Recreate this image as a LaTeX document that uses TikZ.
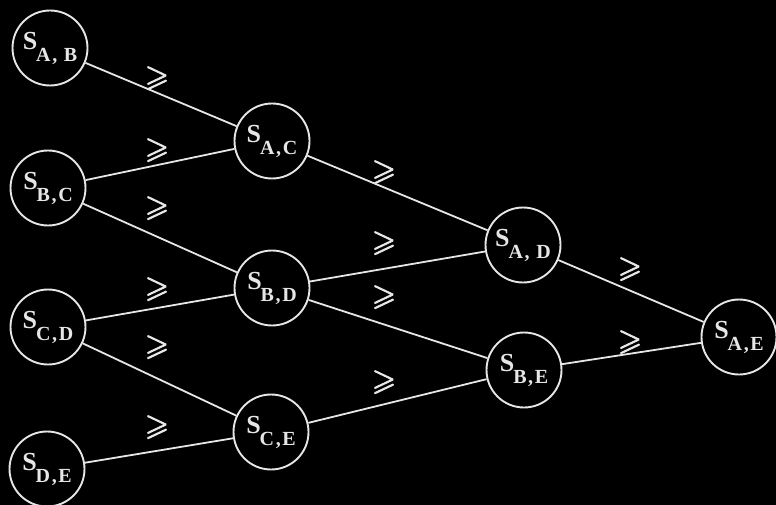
\documentclass[tikz,border=0pt]{standalone}
\usepackage{fontspec}
\setmainfont{Liberation Serif}
\newfontfamily\relfont{Latin Modern Math}[FakeBold=3]
\newfontfamily\subfont{Liberation Serif}[LetterSpace=8]
\definecolor{fg}{HTML}{E6E6E6}
\begin{document}
\begin{tikzpicture}[x=1pt,y=-1pt,
  snode/.style={circle,draw=fg,line width=1.9pt,fill=black,minimum size=75pt,inner sep=0pt,text=fg},
  link/.style={draw=fg,line width=1.8pt},
  rel/.style={text=fg,font=\relfont\fontsize{30}{30}\selectfont,inner sep=0pt}]
\fill[black] (0,0) rectangle (776,505);
\useasboundingbox (0,0) rectangle (776,505);
\newcommand{\slab}[1]{\bfseries\fontsize{26}{26}\selectfont S\kern-1pt\raisebox{-12pt}{\subfont\bfseries\fontsize{20}{20}\selectfont #1}}
\node[snode] (ab) at (50,48) {\slab{A, B}};
\node[snode] (bc) at (48,188) {\slab{B,C}};
\node[snode] (cd) at (48,327) {\slab{C,D}};
\node[snode] (de) at (47,469) {\slab{D,E}};
\node[snode] (ac) at (272,141) {\slab{A,C}};
\node[snode] (bd) at (272,288) {\slab{B,D}};
\node[snode] (ce) at (271,432) {\slab{C,E}};
\node[snode] (ad) at (523,245) {\slab{A, D}};
\node[snode] (be) at (524,370) {\slab{B,E}};
\node[snode] (ae) at (739,337) {\slab{A,E}};
\draw[link] (ab) -- (ac);
\draw[link] (bc) -- (ac);
\draw[link] (bc) -- (bd);
\draw[link] (cd) -- (bd);
\draw[link] (cd) -- (ce);
\draw[link] (de) -- (ce);
\draw[link] (ac) -- (ad);
\draw[link] (bd) -- (ad);
\draw[link] (bd) -- (be);
\draw[link] (ce) -- (be);
\draw[link] (ad) -- (ae);
\draw[link] (be) -- (ae);
\node[rel] (r1) at (157,78) {⩾};
\node[rel] (r2) at (157,150) {⩾};
\node[rel] (r3) at (157,208) {⩾};
\node[rel] (r4) at (157,289) {⩾};
\node[rel] (r5) at (157,347) {⩾};
\node[rel] (r6) at (157,427) {⩾};
\node[rel] (r7) at (384,172) {⩾};
\node[rel] (r8) at (384,243) {⩾};
\node[rel] (r9) at (384,297) {⩾};
\node[rel] (r10) at (384,382) {⩾};
\node[rel] (r11) at (630,269) {⩾};
\node[rel] (r12) at (630,342) {⩾};
\end{tikzpicture}
\end{document}
